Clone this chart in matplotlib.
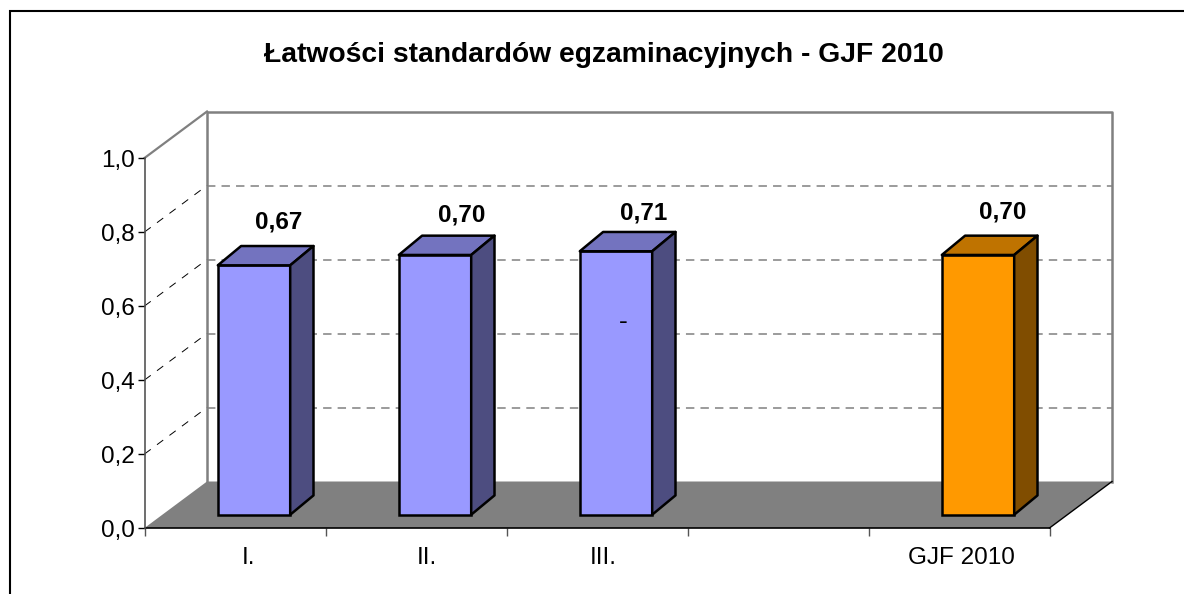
import matplotlib
matplotlib.use('Agg')
import matplotlib.pyplot as plt
from matplotlib.lines import Line2D
from matplotlib.patches import Polygon

plt.rcParams['font.family'] = ['Liberation Sans', 'DejaVu Sans']

title = 'Łatwości standardów egzaminacyjnych - GJF 2010'
categories = ['I.', 'II.', 'III.', '', 'GJF 2010']
positions = [0, 1, 2, 4]
values = [0.674, 0.702, 0.712, 0.702]
value_labels = ['0,67', '0,70', '0,71', '0,70']
yticks = [0.0, 0.2, 0.4, 0.6, 0.8, 1.0]
ytick_labels = ['0,0', '0,2', '0,4', '0,6', '0,8', '1,0']

front_cols = ['#9999FF', '#9999FF', '#9999FF', '#FF9900']
top_cols = ['#7373BF', '#7373BF', '#7373BF', '#BF7300']
side_cols = ['#4D4D80', '#4D4D80', '#4D4D80', '#804D00']

# nudges in pixels, the labels are not centred on their slots in the picture
label_nudge = [(1, 0), (3, -3), (4, -5), (1, 0)]
cat_nudge = [13, 11, 6, 0, 2]

W, H = 1184, 594
fig = plt.figure(figsize=(W / 100, H / 100), dpi=100)

# frame: only left and top edges are in the crop
fig.add_artist(Line2D([10 / W, 10 / W, 1], [0, 1 - 11 / H, 1 - 11 / H], transform=fig.transFigure,
                      color='black', lw=1.5, solid_joinstyle='miter'))

ax = fig.add_axes([144.5 / W, (H - 528) / H, 905 / W, 370 / H])
ax.set_xlim(0, 5)
ax.set_ylim(0, 1)
ax.patch.set_visible(False)

px = 5 / 905
py = 1 / 370
wall_dx = 62.5 * px
wall_dy = 46.5 * py

# floor and walls
ax.add_patch(Polygon([(0, 0), (5, 0), (5 + wall_dx, wall_dy), (wall_dx, wall_dy)],
                     fc='#808080', ec='none', clip_on=False, zorder=1))
ax.plot([wall_dx, wall_dx, 5 + wall_dx, 5 + wall_dx], [wall_dy, 1 + wall_dy, 1 + wall_dy, wall_dy],
        color='#808080', lw=1.8, clip_on=False, zorder=1)
ax.plot([0, wall_dx], [1, 1 + wall_dy], color='#808080', lw=1.6, clip_on=False, zorder=1)
ax.plot([5, 5 + wall_dx], [0, wall_dy], color='black', lw=1, clip_on=False, zorder=2)

# gridlines on the back wall and the side wall
for t in yticks[1:-1]:
    ax.plot([wall_dx, 5 + wall_dx], [t + wall_dy, t + wall_dy], color='#808080', lw=1.1,
            dashes=(5.5, 4), clip_on=False, zorder=1)
    ax.plot([0, wall_dx], [t, t + wall_dy], color='black', lw=0.7,
            dashes=(8, 8), clip_on=False, zorder=1)

# bars
bar_w = 0.4
bar_dx = 23.3 * px
bar_dy = 19.3 * py
off_x = 19 * px
off_y = 13.3 * py
for p, v, fc, tc, sc, lab, nudge in zip(positions, values, front_cols, top_cols, side_cols, value_labels, label_nudge):
    x0 = p + 0.5 + off_x - bar_w / 2
    x1 = x0 + bar_w
    top = off_y + v
    ax.bar(x0, v, bar_w, bottom=off_y, align='edge', color=fc, ec='black', lw=1.8, clip_on=False, zorder=3)
    ax.add_patch(Polygon([(x0, top), (x1, top), (x1 + bar_dx, top + bar_dy), (x0 + bar_dx, top + bar_dy)],
                         fc=tc, ec='black', lw=1.8, joinstyle='round', clip_on=False, zorder=3))
    ax.add_patch(Polygon([(x1, off_y), (x1 + bar_dx, off_y + bar_dy), (x1 + bar_dx, top + bar_dy), (x1, top)],
                         fc=sc, ec='black', lw=1.8, joinstyle='round', clip_on=False, zorder=3))
    ax.text(x0 + bar_w / 2 + bar_dx + nudge[0] * px, top + bar_dy + (24 + nudge[1]) * py, lab,
            ha='center', va='center', fontsize=17.5, fontweight='bold', color='black', zorder=4)

# stray dash on the third bar
ax.text(positions[2] + 0.5 + off_x + 7 * px, 0.556, '-', ha='center', va='center', fontsize=19, color='black', zorder=4)

for s in ['top', 'right']:
    ax.spines[s].set_visible(False)
ax.spines['left'].set_color('#555555')
ax.spines['left'].set_linewidth(1.2)
ax.spines['bottom'].set_color('black')
ax.spines['bottom'].set_linewidth(1.2)
ax.spines['bottom'].set_zorder(2)

ax.set_yticks(yticks, ytick_labels, fontsize=17.5)
ax.set_xticks(range(6), [''] * 6)
ax.set_xticks([i + 0.5 + n * px for i, n in enumerate(cat_nudge)], categories, minor=True, fontsize=17.5)
ax.tick_params(axis='y', length=5, width=1, pad=2)
ax.tick_params(axis='x', which='major', length=6, width=1, color='#555555')
ax.tick_params(axis='x', which='minor', length=0, pad=14)

fig.text(604 / W, 1 - 55 / H, title, ha='center', va='center', fontsize=20.3, fontweight='bold')

fig.savefig('out.png', dpi=100, facecolor='white')
